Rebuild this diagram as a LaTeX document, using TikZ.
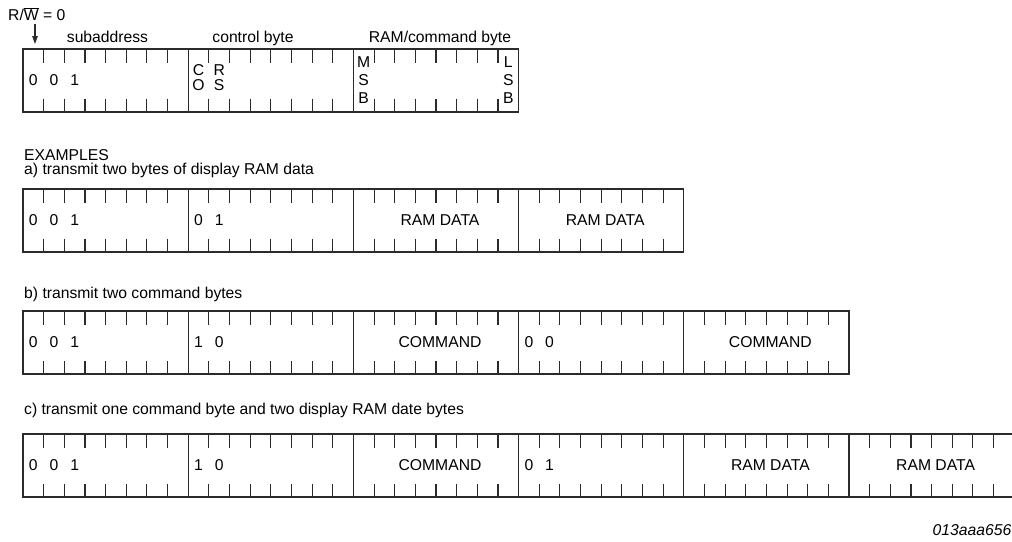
\documentclass[tikz,border=0pt]{standalone}
\usepackage{fontspec}
\setmainfont{Liberation Sans}
\usetikzlibrary{arrows.meta}
\definecolor{lineg}{HTML}{2B2B2B}

\newcommand{\bitw}{20.65}
% one row of bytes: name, top edge, number of bytes
\newcommand{\byterow}[3]{%
  \node[bytebox, minimum width=#3*8*\bitw, anchor=north west] (#1) at (23,#2) {};
  \pgfmathtruncatemacro{\lastbit}{8*#3-1}%
  \foreach \i in {1,...,\lastbit}{%
    \pgfmathtruncatemacro{\bitmod}{mod(\i,8)}%
    \ifnum\bitmod=0
      \draw[bittick] (23+\i*\bitw,#2) -- (23+\i*\bitw,#2+63);
    \else
      \draw[bittick] (23+\i*\bitw,#2) -- (23+\i*\bitw,#2+13.5);
      \draw[bittick] (23+\i*\bitw,#2+49.5) -- (23+\i*\bitw,#2+63);
    \fi
  }%
}

\begin{document}
\begin{tikzpicture}[x=1pt, y=-1pt,
  declare function={bx(\n)=23+(\n+0.5)*20.65; byx(\n)=27+(\n+0.5)*165.2;},
  lbl/.style={font=\fontsize{15.7}{18}\selectfont, inner sep=0pt, text=black},
  stack/.style={lbl, align=center, font=\fontsize{15.7}{#1}\selectfont},
  bytebox/.style={rectangle, draw=lineg, line width=1.1pt, minimum height=63pt,
    outer sep=0pt, inner sep=0pt},
  bittick/.style={draw=lineg, line width=1.1pt},
  arr/.style={-{Triangle[length=8pt,width=5.5pt]}, draw=lineg, fill=lineg, line width=1.1pt}
]
\clip (0,0) rectangle (1012,541);

% register layout
\node[lbl, anchor=base west] (rw) at (8,20.5) {R/$\overline{\mbox{W}}$ = 0};
\coordinate (rwtip) at (35,44);
\draw[arr, shorten <=3pt] (rw.south -| rwtip) -- (rwtip);
\node[lbl, anchor=base] (subaddr) at (107.5,42.5) {subaddress};
\node[lbl, anchor=base] (ctrlbyte) at (253,42.5) {control byte};
\node[lbl, anchor=base] (rambyte) at (440,42.5) {RAM/command byte};

\byterow{rowtop}{49}{3}
\node[lbl] (top0) at ({bx(0)},80.5) {0};
\node[lbl] (top1) at ({bx(1)},80.5) {0};
\node[lbl] (top2) at ({bx(2)},80.5) {1};
\node[stack=15.5] (topco) at ({bx(8)},77.75) {C\\O};
\node[stack=15.5] (toprs) at ({bx(9)},77.75) {R\\S};
\node[stack=18] (topmsb) at ({bx(16)},80) {M\\S\\B};
\node[stack=18] (toplsb) at ({bx(23)},80) {L\\S\\B};

% examples
\node[lbl, anchor=base west] (examples) at (24,160.5) {EXAMPLES};
\node[lbl, anchor=base west] (capa) at (24,174.5) {a) transmit two bytes of display RAM data};
\byterow{rowa}{189}{4}
\node[lbl] (a0) at ({bx(0)},220.5) {0};
\node[lbl] (a1) at ({bx(1)},220.5) {0};
\node[lbl] (a2) at ({bx(2)},220.5) {1};
\node[lbl] (a8) at ({bx(8)},220.5) {0};
\node[lbl] (a9) at ({bx(9)},220.5) {1};
\node[lbl] (adata1) at ({byx(2)},220.5) {RAM DATA};
\node[lbl] (adata2) at ({byx(3)},220.5) {RAM DATA};

\node[lbl, anchor=base west] (capb) at (24,298) {b) transmit two command bytes};
\byterow{rowb}{311}{5}
\node[lbl] (b0) at ({bx(0)},342.5) {0};
\node[lbl] (b1) at ({bx(1)},342.5) {0};
\node[lbl] (b2) at ({bx(2)},342.5) {1};
\node[lbl] (b8) at ({bx(8)},342.5) {1};
\node[lbl] (b9) at ({bx(9)},342.5) {0};
\node[lbl] (bcmd1) at ({byx(2)},342.5) {COMMAND};
\node[lbl] (b24) at ({bx(24)},342.5) {0};
\node[lbl] (b25) at ({bx(25)},342.5) {0};
\node[lbl] (bcmd2) at ({byx(4)},342.5) {COMMAND};

\node[lbl, anchor=base west] (capc) at (24,414) {c) transmit one command byte and two display RAM date bytes};
\byterow{rowc}{434}{6}
\node[lbl] (c0) at ({bx(0)},465.5) {0};
\node[lbl] (c1) at ({bx(1)},465.5) {0};
\node[lbl] (c2) at ({bx(2)},465.5) {1};
\node[lbl] (c8) at ({bx(8)},465.5) {1};
\node[lbl] (c9) at ({bx(9)},465.5) {0};
\node[lbl] (ccmd) at ({byx(2)},465.5) {COMMAND};
\node[lbl] (c24) at ({bx(24)},465.5) {0};
\node[lbl] (c25) at ({bx(25)},465.5) {1};
\node[lbl] (cdata1) at ({byx(4)},465.5) {RAM DATA};
\node[lbl] (cdata2) at ({byx(5)},465.5) {RAM DATA};

\node[lbl, anchor=base east, font=\fontsize{15.7}{18}\selectfont\itshape] (figid) at (1011.5,535) {013aaa656};
\end{tikzpicture}
\end{document}
